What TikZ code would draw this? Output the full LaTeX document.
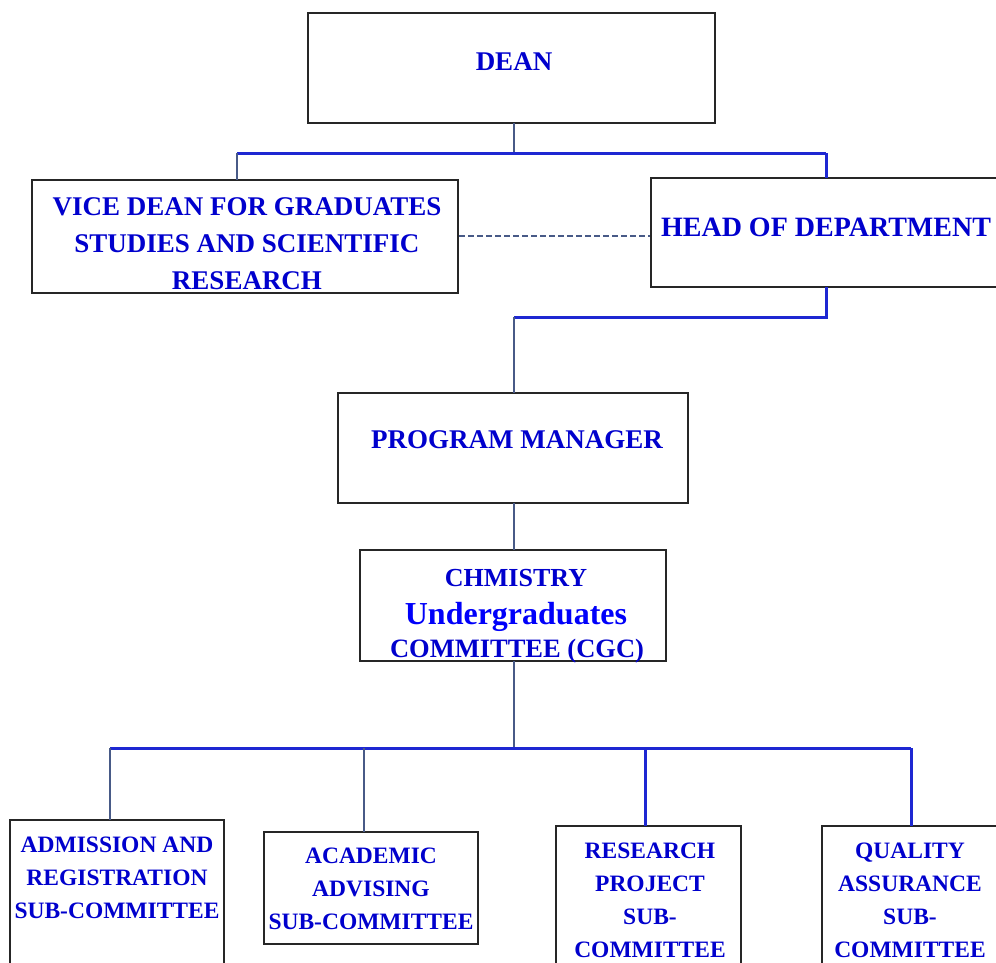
\documentclass[tikz,border=0pt]{standalone}
\usepackage{fontspec}
\setmainfont{Liberation Serif}
\begin{document}
\definecolor{txtblue}{RGB}{0,0,205}
\definecolor{ugblue}{RGB}{0,0,250}
\definecolor{lnblue}{RGB}{30,40,210}
\definecolor{lnslate}{RGB}{72,90,135}
\begin{tikzpicture}[x=1pt,y=-1pt,
  box/.style={draw=black!85,line width=1.6pt,fill=white},
  toptext/.style={text=txtblue,font=\bfseries\fontsize{27}{37}\selectfont,align=center,inner sep=0pt},
  subtext/.style={text=txtblue,font=\bfseries\fontsize{23.5}{33}\selectfont,align=center,inner sep=0pt},
  blueline/.style={draw=lnblue,line width=3pt},
  slateline/.style={draw=lnslate,line width=2.8pt}]
\useasboundingbox (0,0) rectangle (996,962);
\clip (0,0) rectangle (996,962);
% junction points of the tree lines
\coordinate (topbus) at (514,153);
\coordinate (topL) at (237,153);
\coordinate (topR) at (826,153);
\coordinate (midR) at (826,317);
\coordinate (midL) at (514,317);
\coordinate (busC) at (514,748);
\coordinate (busA) at (110,748);
\coordinate (busB) at (364,748);
\coordinate (busD) at (645,748);
\coordinate (busE) at (911,748);
% boxes
\path[box] (308,13) rectangle (715,123);
\node[inner sep=0pt] (dean) at (511.5,68) {};
\path[box] (32,180) rectangle (458,293);
\node[inner sep=0pt] (vice) at (245,236.5) {};
\path[box] (651,178) rectangle (1010,287);
\node[inner sep=0pt] (hod) at (830,232.5) {};
\path[box] (338,393) rectangle (688,503);
\node[inner sep=0pt] (pm) at (513,448) {};
\path[box] (360,550) rectangle (666,661);
\node[inner sep=0pt] (cgc) at (513,605.5) {};
\path[box] (10,820) rectangle (224,980);
\path[box] (264,832) rectangle (478,944);
\path[box] (556,826) rectangle (741,980);
\path[box] (822,826) rectangle (1010,980);
% tree lines
\draw[slateline] (514,123) -- (topbus);
\draw[blueline] (topL) -- (topR);
\draw[slateline] (topL) -- (237,180);
\draw[blueline] (topR) -- (826,178);
\draw[blueline] (826,287) -- (midR) -- (midL);
\draw[slateline] (midL) -- (514,393);
\draw[slateline] (514,503) -- (514,550);
\draw[slateline] (514,661) -- (busC);
\draw[blueline] (busA) -- (busE);
\draw[slateline] (busA) -- (110,820);
\draw[slateline] (busB) -- (364,832);
\draw[blueline] (busD) -- (645,826);
\draw[blueline] (busE) -- (911,826);
\draw[draw=lnslate,line width=2pt,dash pattern=on 6pt off 3pt] (459,236) -- (650,236);
% labels
\node[toptext] (tdean) at (514,62) {DEAN};
\node[toptext] (tvice) at (247,244) {VICE DEAN FOR GRADUATES\\STUDIES AND SCIENTIFIC\\RESEARCH};
\node[toptext,font=\bfseries\fontsize{28}{37}\selectfont] (thod) at (826,227) {HEAD OF DEPARTMENT};
\node[toptext] (tpm) at (517,440) {PROGRAM MANAGER};
\node[toptext,font=\bfseries\fontsize{26}{33}\selectfont] (tchem) at (516,578) {CHMISTRY};
\node[text=ugblue,font=\bfseries\fontsize{32}{36}\selectfont,inner sep=0pt] (tug) at (516,617) {Undergraduates};
\node[toptext,font=\bfseries\fontsize{26.5}{33}\selectfont] (tcom) at (517,651) {COMMITTEE (CGC)};
\node[subtext] (tadm) at (117,878) {ADMISSION AND\\REGISTRATION\\SUB-COMMITTEE};
\node[subtext] (taca) at (371,889) {ACADEMIC\\ADVISING\\SUB-COMMITTEE};
\node[subtext] (tres) at (650,900) {RESEARCH\\PROJECT\\SUB-\\COMMITTEE};
\node[subtext] (tqua) at (910,900) {QUALITY\\ASSURANCE\\SUB-\\COMMITTEE};
\end{tikzpicture}
\end{document}
